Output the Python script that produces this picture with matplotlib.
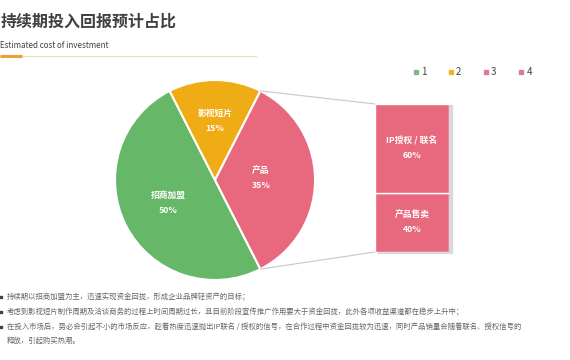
import matplotlib.pyplot as plt
from matplotlib.patches import ConnectionPatch, Rectangle
from matplotlib.lines import Line2D
import numpy as np

plt.rcParams['font.family'] = ['Noto Sans CJK SC', 'DejaVu Sans']

# data
pie_labels = ['招商加盟', '影视短片', '产品']
pie_values = [50, 15, 35]
pie_colors = ['#66b768', '#f0ac14', '#e8697e']
bar_labels = ['产品售卖', 'IP授权 / 联名']
bar_values = [40, 60]
legend_names = ['1', '2', '3', '4']
legend_colors = ['#86b487', '#eeb22c', '#e27891', '#d08294']
notes = [
    '持续期以招商加盟为主，迅速实现资金回拢，形成企业品牌轻资产的目标；',
    '考虑到影视短片制作周期及洽谈商务的过程上时间周期过长，且目前阶段宣传推广作用要大于资金回拢，此外各项收益渠道都在稳步上升中；',
    '在投入市场后，势必会引起不小的市场反应，趁着热度迅速抛出IP联名 / 授权的信号，在合作过程中资金回拢较为迅速，同时产品销量会随着联名、授权信号的',
]
notes_tail = '释放，引起购买热潮。'

W, H = 570, 360
fig = plt.figure(figsize=(W / 100, H / 100), dpi=100)
ax = fig.add_axes([0, 0, 1, 1])
ax.set_xlim(0, W)
ax.set_ylim(0, H)
ax.axis('off')

# title block
fig.text(0.5 / W, 1 - 22 / H, '持续期投入回报预计占比', fontsize=11.5, fontweight='bold',
         color='#404040', va='center', ha='left')
fig.text(0 / W, 1 - 46 / H, 'Estimated cost of investment', fontsize=5.8,
         color='#404040', va='center', ha='left')
ax.plot([0, 256], [H - 56, H - 56], color='#eadcc0', lw=0.8)
ax.plot([0, 22], [H - 56, H - 56], color='#f0a030', lw=2.2, solid_capstyle='butt')

# pie
wedges, _ = ax.pie(pie_values, colors=pie_colors, startangle=-63, counterclock=False,
                   radius=100, center=(215, 180), explode=[0, 0, 0.035],
                   wedgeprops=dict(edgecolor='white', linewidth=1.5))
ax.set_xlim(0, W)
ax.set_ylim(0, H)
ax.set_aspect('equal')

label_pos = [(168, 360 - 203), (215, 360 - 121), (261, 360 - 178)]
for (x, y), name, v in zip(label_pos, pie_labels, pie_values):
    ax.text(x, y, f'{name}\n{v}%', ha='center', va='center', color='white',
            fontsize=6.3, fontweight='bold', linespacing=1.8)

# stacked bar on the right
bx = fig.add_axes([375 / W, 1 - 252 / H, 74 / W, 148 / H])
bx.set_xlim(0, 1)
bx.set_ylim(0, sum(bar_values))
bx.axis('off')
bottom = 0
for name, v in zip(bar_labels, bar_values):
    bx.add_patch(Rectangle((0.04, bottom - 0.8), 1, v, color='#d9d9d9', zorder=0,
                           clip_on=False))
    bx.bar(0.5, v, bottom=bottom, width=1, color=pie_colors[2], edgecolor='white',
           linewidth=1.0, zorder=1)
    bx.text(0.5, bottom + v / 2, f'{name}\n{v}%', ha='center', va='center',
            color='white', fontsize=6.3, fontweight='bold', linespacing=1.8, zorder=2)
    bottom += v

# connectors from pink slice to bar
pw = wedges[2]
cx, cy = pw.center
r = pw.r
for ang, yb in [(pw.theta2, sum(bar_values)), (pw.theta1, 0)]:
    xa = cx + r * np.cos(np.radians(ang))
    ya = cy + r * np.sin(np.radians(ang))
    con = ConnectionPatch(xyA=(0, yb), coordsA=bx.transData, xyB=(xa, ya),
                          coordsB=ax.transData, color='#c8c8c8', lw=0.8)
    fig.add_artist(con)

# legend
handles = [Line2D([], [], marker='s', color=c, linestyle='', markersize=3)
           for c in legend_colors]
fig.legend(handles, legend_names, loc='center', bbox_to_anchor=(471 / W, 1 - 72 / H),
           ncol=4, frameon=False, fontsize=7, handletextpad=-0.1, columnspacing=1.95,
           handlelength=1.2, labelcolor='#404040')

# notes
ys = [297, 312, 327]
for y, t in zip(ys, notes):
    ax.plot([1], [H - y], marker='s', color='#404040', markersize=2)
    ax.text(7, H - y, t, fontsize=5.3, color='#666666', va='center', ha='left')
ax.text(7, H - 341, notes_tail, fontsize=5.3, color='#666666', va='center', ha='left')

fig.savefig('out.png', dpi=100)
